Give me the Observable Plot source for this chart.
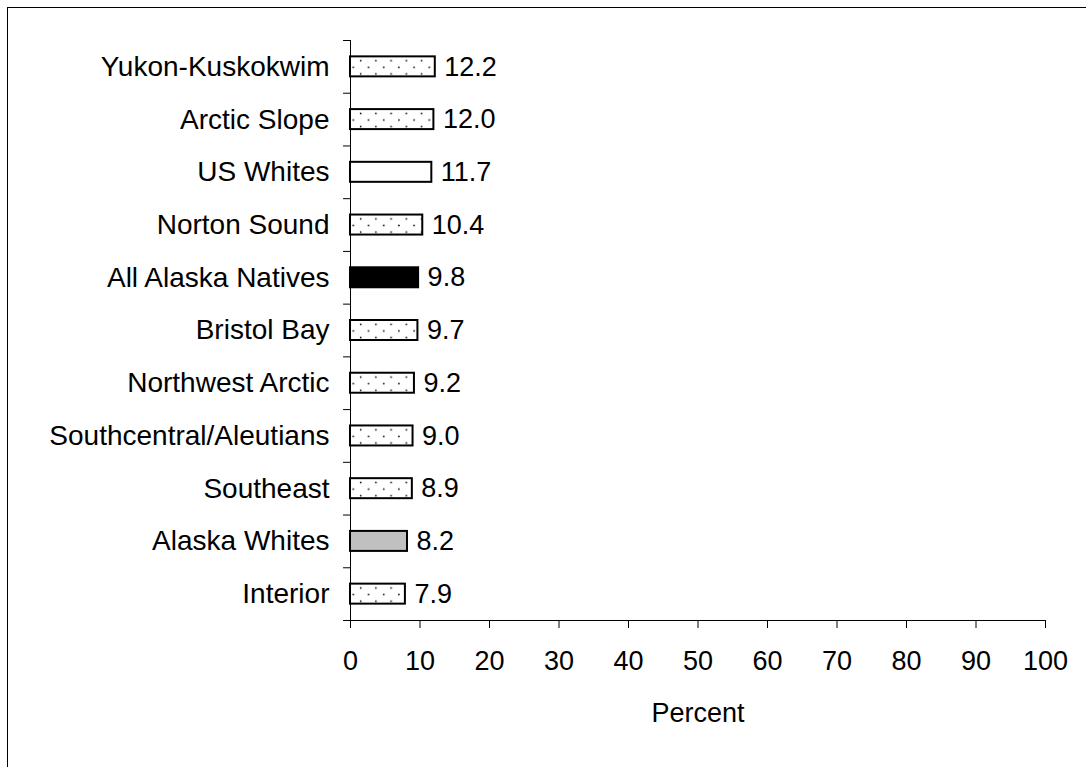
<!DOCTYPE html>
<html>
<head>
<meta charset="utf-8">
<script src="https://cdn.jsdelivr.net/npm/d3@7"></script>
<script src="https://cdn.jsdelivr.net/npm/@observablehq/plot@0.6"></script>
<style>
  html, body { margin: 0; padding: 0; background: #fff; overflow: hidden; width: 1086px; height: 767px; }
  #frame { position: absolute; left: 7px; top: 7px; width: 1200px; height: 900px; border: 1.5px solid #000; }
  #chart { position: absolute; left: 0; top: 0; }
</style>
</head>
<body>
<div id="frame"></div>
<div id="chart"></div>
<script>
const categories = ["Yukon-Kuskokwim", "Arctic Slope", "US Whites", "Norton Sound", "All Alaska Natives",
  "Bristol Bay", "Northwest Arctic", "Southcentral/Aleutians", "Southeast", "Alaska Whites", "Interior"];
const values = [12.2, 12.0, 11.7, 10.4, 9.8, 9.7, 9.2, 9.0, 8.9, 8.2, 7.9];
const groups = ["region", "region", "usWhites", "region", "allNatives",
  "region", "region", "region", "region", "alaskaWhites", "region"];
const xTicks = [0, 10, 20, 30, 40, 50, 60, 70, 80, 90, 100];
const xLabel = "Percent";

const fills = {region: "url(#dots)", usWhites: "#ffffff", allNatives: "#000000", alaskaWhites: "#c0c0c0"};
const data = categories.map((c, i) => ({category: c, value: values[i], group: groups[i]}));

const W = 1086, H = 767;
const mTop = 40, mBottom = 147, mLeft = 350, mRight = 41;
const step = (H - mTop - mBottom) / categories.length;
const barH = 20;
const inset = (step - barH) / 2;
const FS = 27, FSC = 28;

const chart = Plot.plot({
  width: W,
  height: H,
  marginTop: mTop,
  marginBottom: mBottom,
  marginLeft: mLeft,
  marginRight: mRight,
  style: {fontFamily: "'Liberation Sans', Arial, sans-serif", fontSize: FS + "px", color: "#000", background: "transparent"},
  x: {domain: [0, 100]},
  y: {type: "band", domain: categories, padding: 0, round: false},
  color: {type: "identity"},
  marks: [
    Plot.barX(data, {x: "value", y: "category", fill: d => fills[d.group], stroke: "#000", strokeWidth: 2,
      insetTop: inset, insetBottom: inset}),
    Plot.text(data, {x: "value", y: "category", text: d => d.value.toFixed(1), textAnchor: "start", dx: 9,
      fontSize: FS, fill: "#000"}),
    Plot.ruleX([0], {stroke: "#000", strokeWidth: 1}),
    Plot.ruleY(categories, {y: d => d, dy: -step / 2, x1: -1, x2: 0, stroke: "#000", strokeWidth: 1}),
    Plot.ruleY(categories.slice(-1), {y: d => d, dy: step / 2, x1: -1, x2: 100, stroke: "#000", strokeWidth: 1}),
    Plot.axisX({ticks: xTicks, tickSize: 8, tickPadding: 22, fontSize: FS, label: null, stroke: "#000"}),
    Plot.axisY({tickSize: 0, tickPadding: 21, fontSize: FSC, label: null}),
    Plot.text([xLabel], {text: d => d, frameAnchor: "bottom", dy: 82, lineAnchor: "top", fontSize: FS, fill: "#000"})
  ]
});

// dotted fill pattern (period in y = step/4 so every bar gets the same phase)
const ns = "http://www.w3.org/2000/svg";
const pw = 15.2, ph = step / 4;
const defs = document.createElementNS(ns, "defs");
const pat = document.createElementNS(ns, "pattern");
pat.setAttribute("id", "dots");
pat.setAttribute("patternUnits", "userSpaceOnUse");
pat.setAttribute("width", pw);
pat.setAttribute("height", ph);
const bg = document.createElementNS(ns, "rect");
bg.setAttribute("width", pw); bg.setAttribute("height", ph); bg.setAttribute("fill", "#fff");
pat.appendChild(bg);
[[3.7, 1.4], [11.1, 8.0]].forEach(([cx, cy]) => {
  const c = document.createElementNS(ns, "rect");
  c.setAttribute("x", cx - 0.75); c.setAttribute("y", cy - 0.75);
  c.setAttribute("width", 1.5); c.setAttribute("height", 1.5);
  c.setAttribute("fill", "#000");
  pat.appendChild(c);
});
defs.appendChild(pat);
chart.insertBefore(defs, chart.firstChild);

document.getElementById("chart").appendChild(chart);
</script>
</body>
</html>
